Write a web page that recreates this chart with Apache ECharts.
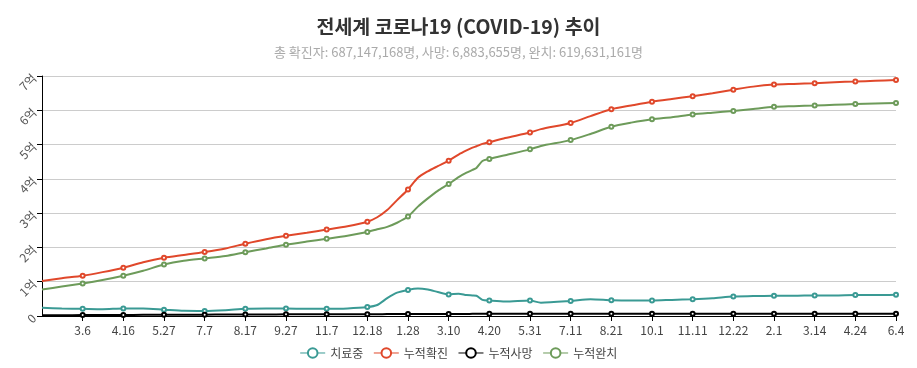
<!DOCTYPE html>
<html>
<head>
<meta charset="utf-8">
<script src="https://cdn.jsdelivr.net/npm/echarts@6/dist/echarts.min.js"></script>
<style>
html,body{margin:0;padding:0;background:#fff;}
#chart{width:917px;height:368px;}
</style>
</head>
<body>
<div id="chart"></div>
<script>
// Daily category axis: 2021-01-24 .. 2023-06-04 (862 days)
const startDate = [2021, 0, 24];
const dayCount = 862;
const labelStep = 41;

const sampleDays = [0,20,41,61,82,102,123,143,164,185,205,226,246,267,287,308,328,338,348,358,369,379,389,399,410,420,428,434,438,444,451,467,492,503,533,553,574,594,615,635,656,676,697,717,738,758,779,799,820,840,861];

const treating = [0.24,0.22,0.21,0.20,0.22,0.22,0.185,0.15,0.146,0.17,0.21,0.22,0.22,0.21,0.21,0.22,0.26,0.32,0.52,0.68,0.76,0.80,0.77,0.70,0.63,0.65,0.61,0.60,0.59,0.47,0.45,0.42,0.45,0.39,0.44,0.49,0.46,0.45,0.45,0.47,0.49,0.52,0.57,0.58,0.59,0.59,0.60,0.60,0.61,0.61,0.62];

const confirmed = [1.02,1.10,1.175,1.28,1.41,1.57,1.70,1.78,1.866,1.97,2.11,2.24,2.34,2.43,2.52,2.62,2.75,2.88,3.09,3.38,3.69,4.03,4.22,4.37,4.53,4.71,4.83,4.91,4.95,5.02,5.07,5.19,5.35,5.45,5.63,5.83,6.03,6.14,6.25,6.33,6.41,6.50,6.60,6.69,6.75,6.77,6.79,6.82,6.84,6.86,6.88];

const deaths = [0.021,0.023,0.026,0.028,0.030,0.033,0.035,0.038,0.040,0.042,0.044,0.046,0.048,0.050,0.051,0.053,0.054,0.054,0.055,0.056,0.057,0.058,0.059,0.060,0.060,0.061,0.061,0.062,0.062,0.062,0.062,0.063,0.063,0.063,0.064,0.064,0.065,0.065,0.066,0.066,0.066,0.067,0.067,0.068,0.068,0.068,0.068,0.069,0.069,0.069,0.069];

const recovered = [0.77,0.86,0.95,1.05,1.175,1.32,1.50,1.61,1.68,1.75,1.86,1.97,2.08,2.17,2.25,2.34,2.45,2.53,2.60,2.72,2.90,3.19,3.43,3.65,3.85,4.05,4.18,4.26,4.32,4.52,4.58,4.69,4.86,4.96,5.13,5.31,5.52,5.64,5.74,5.80,5.88,5.93,5.98,6.04,6.10,6.12,6.14,6.16,6.18,6.20,6.21];

const seriesNames = ['치료중','누적확진','누적사망','누적완치'];
const seriesColors = ['#3a9a94','#e0482b','#000000','#6d9b5a'];
const yTicks = [0,1,2,3,4,5,6,7];

const titleText = '전세계 코로나19 (COVID-19) 추이';
const subText = '총 확진자: 687,147,168명, 사망: 6,883,655명, 완치: 619,631,161명';

// Build category labels (M.D)
const categories = [];
for (let i = 0; i < dayCount; i++) {
  const d = new Date(startDate[0], startDate[1], startDate[2] + i);
  categories.push((d.getMonth() + 1) + '.' + d.getDate());
}

function pairs(vals) { return sampleDays.map((d, i) => [d, vals[i]]); }
const showIdx = (idx) => idx > 0 && idx % labelStep === 0;

const seriesValues = [treating, confirmed, deaths, recovered];

const chart = echarts.init(document.getElementById('chart'));
chart.setOption({
  animation: false,
  color: seriesColors,
  title: {
    text: titleText,
    subtext: subText,
    left: 'center',
    top: 12,
    itemGap: 9,
    textStyle: { fontSize: 19.5, fontWeight: 'bold', color: '#333', fontFamily: 'Noto Sans CJK KR' },
    subtextStyle: { fontSize: 13, color: '#aaa', fontFamily: 'Noto Sans CJK KR' }
  },
  legend: {
    bottom: 4,
    left: 'center',
    itemWidth: 25,
    itemHeight: 12,
    itemGap: 10,
    itemStyle: { borderWidth: 1 },
    lineStyle: { width: 1 },
    textStyle: { fontSize: 12, color: '#444', fontFamily: 'Noto Sans CJK KR' },
    data: seriesNames
  },
  grid: { left: 42, right: 21, top: 76, bottom: 52 },
  xAxis: {
    type: 'category',
    boundaryGap: false,
    data: categories,
    axisLine: { lineStyle: { color: '#000', width: 1 } },
    axisTick: { interval: showIdx, lineStyle: { color: '#000' } },
    axisLabel: { interval: showIdx, color: '#444', fontSize: 12, fontFamily: 'Noto Sans CJK KR' },
    splitLine: { show: false }
  },
  yAxis: {
    type: 'value',
    min: yTicks[0],
    max: yTicks[yTicks.length - 1],
    interval: 1,
    axisLine: { show: true, lineStyle: { color: '#000' } },
    axisTick: { show: true, lineStyle: { color: '#000' } },
    axisLabel: {
      rotate: 45,
      color: '#555',
      fontSize: 12,
      fontFamily: 'Noto Sans CJK KR',
      formatter: v => v === 0 ? '0' : v + '억'
    },
    splitLine: { lineStyle: { color: '#ccc' } }
  },
  series: seriesNames.map((name, k) => ({
    name: name,
    type: 'line',
    data: pairs(seriesValues[k]),
    symbol: 'emptyCircle',
    symbolSize: 4,
    smooth: 0.25,
    lineStyle: { width: 2 },
    itemStyle: { color: seriesColors[k] },
    z: k === 2 ? 3 : 2
  }))
});
</script>
</body>
</html>
